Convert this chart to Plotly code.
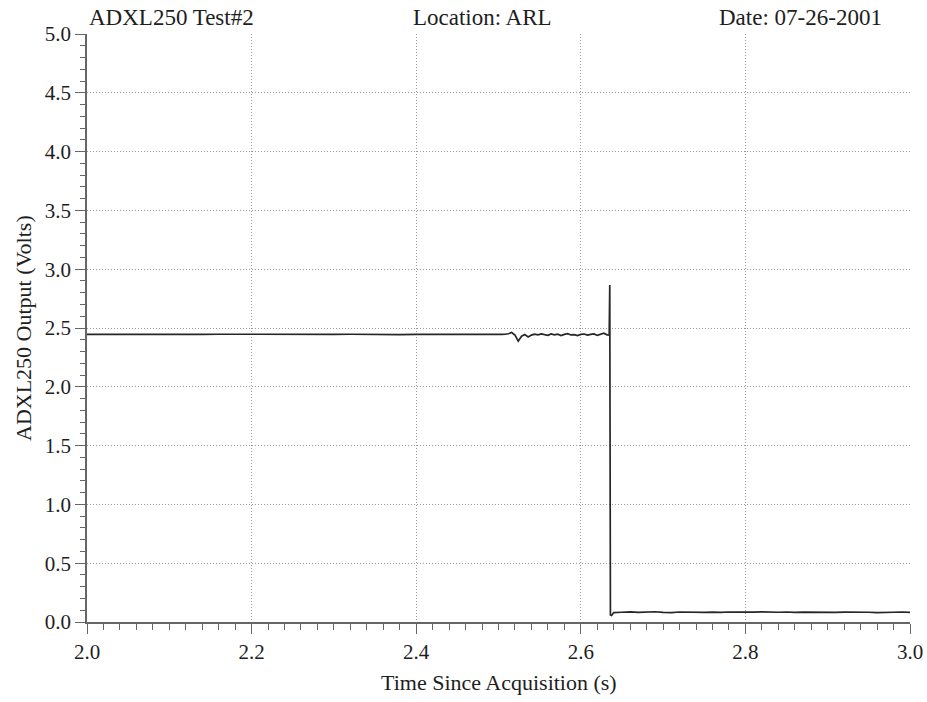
import plotly.graph_objects as go

# ---- data ----
time_s = [
    2.00, 2.02, 2.04, 2.06, 2.08, 2.10, 2.12, 2.14, 2.16, 2.18,
    2.20, 2.22, 2.24, 2.26, 2.28, 2.30, 2.32, 2.34, 2.36, 2.38,
    2.40, 2.42, 2.44, 2.46, 2.48, 2.50,
    2.504, 2.508, 2.512, 2.516, 2.520, 2.524, 2.528, 2.532, 2.536, 2.540,
    2.544, 2.548, 2.552, 2.556, 2.560, 2.564, 2.568, 2.572, 2.576, 2.580,
    2.584, 2.588, 2.592, 2.596, 2.600, 2.604, 2.608, 2.612, 2.616, 2.620,
    2.624, 2.628, 2.632,
    2.6345, 2.6352, 2.6360, 2.6375, 2.6400,
    2.65, 2.66, 2.67, 2.68, 2.69, 2.70, 2.71, 2.72, 2.73, 2.74,
    2.75, 2.76, 2.77, 2.78, 2.79, 2.80, 2.81, 2.82, 2.83, 2.84,
    2.85, 2.86, 2.87, 2.88, 2.89, 2.90, 2.91, 2.92, 2.93, 2.94,
    2.95, 2.96, 2.97, 2.98, 2.99, 3.00,
]
output_volts = [
    2.446, 2.445, 2.447, 2.445, 2.446, 2.444, 2.446, 2.445, 2.447, 2.446,
    2.445, 2.446, 2.444, 2.446, 2.445, 2.446, 2.447, 2.445, 2.446, 2.444,
    2.446, 2.445, 2.446, 2.445, 2.447, 2.446,
    2.446, 2.447, 2.451, 2.462, 2.440, 2.388, 2.430, 2.445, 2.424, 2.440,
    2.447, 2.441, 2.449, 2.443, 2.438, 2.450, 2.442, 2.447, 2.436, 2.446,
    2.452, 2.441, 2.444, 2.435, 2.446, 2.449, 2.439, 2.446, 2.450, 2.437,
    2.445, 2.456, 2.442,
    2.440, 2.866, 0.060, 0.055, 0.080,
    0.083, 0.086, 0.081, 0.084, 0.087, 0.082, 0.080, 0.085, 0.083, 0.086,
    0.082, 0.084, 0.081, 0.085, 0.083, 0.080, 0.084, 0.086, 0.082, 0.083,
    0.085, 0.081, 0.084, 0.082, 0.086, 0.083, 0.081, 0.084, 0.085, 0.082,
    0.083, 0.080, 0.084, 0.083, 0.085, 0.082,
]
x_ticks = [2.0, 2.2, 2.4, 2.6, 2.8, 3.0]
y_ticks = [0.0, 0.5, 1.0, 1.5, 2.0, 2.5, 3.0, 3.5, 4.0, 4.5, 5.0]
header_left = "ADXL250 Test#2"
header_mid = "Location: ARL"
header_right = "Date: 07-26-2001"
x_title = "Time Since Acquisition (s)"
y_title = "ADXL250 Output (Volts)"

FONT = "Liberation Serif, Times New Roman, serif"
INK = "#1e1e1e"
AXC = "#666666"

fig = go.Figure()
fig.add_trace(go.Scatter(
    x=time_s, y=output_volts, mode="lines",
    line=dict(color="#262626", width=1.7),
    showlegend=False, hoverinfo="skip",
))

grid = dict(showgrid=True, gridcolor="#9a9a9a", gridwidth=1, griddash="1px,2px")

fig.update_layout(
    width=927, height=702,
    margin=dict(l=87, r=17, t=34, b=80),
    paper_bgcolor="white", plot_bgcolor="white",
    font=dict(family=FONT, size=21, color=INK),
    xaxis=dict(
        range=[2.0, 3.0], tickvals=x_ticks,
        ticktext=[f"{v:.1f}" for v in x_ticks],
        ticks="outside", ticklen=10, tickwidth=1.2, tickcolor=AXC,
        minor=dict(dtick=0.02, ticks="outside", ticklen=6, tickwidth=1, tickcolor=AXC, showgrid=False),
        showline=True, linecolor=AXC, linewidth=1.5,
        zeroline=False, automargin=False,
        tickfont=dict(size=21, family=FONT, color=INK),
        **grid,
    ),
    yaxis=dict(
        range=[0.0, 5.0], tickvals=y_ticks,
        ticktext=[f"{v:.1f}" for v in y_ticks],
        ticks="outside", ticklen=10, tickwidth=1.2, tickcolor=AXC,
        minor=dict(dtick=0.1, ticks="outside", ticklen=5, tickwidth=1, tickcolor=AXC, showgrid=False),
        showline=True, linecolor=AXC, linewidth=1.5,
        zeroline=False, automargin=False,
        tickfont=dict(size=21, family=FONT, color=INK),
        **grid,
    ),
    annotations=[
        dict(text=header_left, xref="paper", yref="paper", x=0.0, y=1.0,
             xanchor="left", yanchor="bottom", showarrow=False, yshift=2,
             font=dict(size=23, family=FONT, color=INK)),
        dict(text=header_mid, xref="paper", yref="paper", x=0.481, y=1.0,
             xanchor="center", yanchor="bottom", showarrow=False, yshift=2,
             font=dict(size=23, family=FONT, color=INK)),
        dict(text=header_right, xref="paper", yref="paper", x=0.969, y=1.0,
             xanchor="right", yanchor="bottom", showarrow=False, yshift=2,
             font=dict(size=23, family=FONT, color=INK)),
        dict(text=x_title, xref="paper", yref="paper", x=0.5, y=0.0,
             xanchor="center", yanchor="top", showarrow=False, yshift=-46,
             font=dict(size=22, family=FONT, color=INK)),
        dict(text=y_title, xref="paper", yref="paper", x=0.0, y=0.5,
             xanchor="center", yanchor="middle", showarrow=False, xshift=-64,
             textangle=-90, font=dict(size=22, family=FONT, color=INK)),
    ],
)

fig.write_html(
    "out.html",
    config={"displayModeBar": False},
    post_script="document.body.style.margin='0';document.body.style.overflow='hidden';",
)
